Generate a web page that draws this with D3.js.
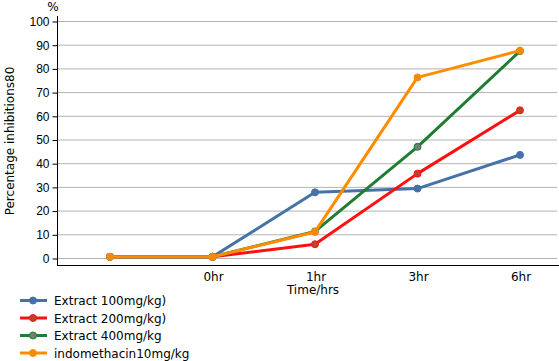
<!DOCTYPE html>
<html>
<head>
<meta charset="utf-8">
<script src="https://d3js.org/d3.v7.min.js"></script>
<style>
  body { margin: 0; background: #fff; }
  svg { font-family: "DejaVu Sans", Verdana, sans-serif; }
  .tick text { font-size: 12px; fill: #000; }
</style>
</head>
<body>
<div id="chart"></div>
<script>
// data
var categories = ["", "0hr", "1hr", "3hr", "6hr"];
var seriesNames = ["Extract 100mg/kg)", "Extract 200mg/kg)", "Extract 400mg/kg", "indomethacin10mg/kg"];
var extract100 = [0.5, 0.5, 27.7, 29.3, 43.5];
var extract200 = [0.5, 0.5, 5.8, 35.6, 62.3];
var extract400 = [0.5, 0.5, 11.2, 46.9, 87.3];
var indomethacin = [0.5, 0.5, 11.0, 76.2, 87.5];
var yTicks = [0, 10, 20, 30, 40, 50, 60, 70, 80, 90, 100];

var colors = ["#4572a7", "#ff1010", "#1e7d32", "#ff8c00"];
var markerFill = ["#4572a7", "#b8452a", "#6f7f70", "#f08a10"];
var allSeries = [extract100, extract200, extract400, indomethacin];

var W = 559, H = 361;
var svg = d3.select("#chart").append("svg").attr("width", W).attr("height", H);

var x = d3.scalePoint().domain(categories).range([110, 520]);
var y = d3.scaleLinear().domain([0, 100]).range([258, 21]);

// gridlines
svg.append("g").selectAll("line").data(yTicks).enter().append("line")
  .attr("x1", 57).attr("x2", 557)
  .attr("y1", function(d) { return y(d) + 0.5; })
  .attr("y2", function(d) { return y(d) + 0.5; })
  .attr("stroke", "#b3b3b3").attr("stroke-width", 1);

// y axis
var yAxis = svg.append("g").attr("transform", "translate(57.5,0.5)")
  .call(d3.axisLeft(y).tickValues(yTicks).tickSize(5).tickPadding(3));
yAxis.select(".domain").remove();
yAxis.selectAll(".tick line").attr("stroke", "#000");
svg.append("line").attr("x1", 57.5).attr("x2", 57.5).attr("y1", 16).attr("y2", 265)
  .attr("stroke", "#000");

// x axis
svg.append("line").attr("x1", 57).attr("x2", 559).attr("y1", 265.5).attr("y2", 265.5)
  .attr("stroke", "#000");
svg.append("g").selectAll("text").data(categories).enter().append("text")
  .attr("x", function(d) { return x(d) + 1; })
  .attr("y", 281)
  .attr("text-anchor", "middle")
  .attr("font-size", 12)
  .text(function(d) { return d; });

svg.append("text").attr("x", 313).attr("y", 294).attr("text-anchor", "middle")
  .attr("font-size", 12).text("Time/hrs");

svg.append("text").attr("transform", "translate(14,141) rotate(-90)")
  .attr("text-anchor", "middle").attr("font-size", 12).text("Percentage inhibitions80");
svg.append("text").attr("x", 53).attr("y", 11).attr("text-anchor", "middle")
  .attr("font-size", 12).text("%");

// lines
var line = d3.line()
  .x(function(d, i) { return x(categories[i]); })
  .y(function(d) { return y(d); });

allSeries.forEach(function(vals, s) {
  var g = svg.append("g");
  g.append("path").datum(vals).attr("d", line)
    .attr("fill", "none").attr("stroke", colors[s]).attr("stroke-width", 3)
    .attr("stroke-linejoin", "round");
  g.selectAll("circle").data(vals).enter().append("circle")
    .attr("cx", function(d, i) { return x(categories[i]); })
    .attr("cy", function(d) { return y(d); })
    .attr("r", 3.5)
    .attr("fill", markerFill[s]).attr("stroke", colors[s]).attr("stroke-width", 1);
});

// legend
var legend = svg.append("g").selectAll("g").data(seriesNames).enter().append("g")
  .attr("transform", function(d, i) { return "translate(20," + (300.5 + i * 17.5) + ")"; });
legend.append("line").attr("x1", 0).attr("x2", 27).attr("y1", 0).attr("y2", 0)
  .attr("stroke", function(d, i) { return colors[i]; }).attr("stroke-width", 3);
legend.append("circle").attr("cx", 13).attr("cy", 0).attr("r", 3.5)
  .attr("fill", function(d, i) { return markerFill[i]; })
  .attr("stroke", function(d, i) { return colors[i]; });
legend.append("text").attr("x", 34).attr("y", 4.5).attr("font-size", 12)
  .text(function(d) { return d; });
</script>
</body>
</html>
